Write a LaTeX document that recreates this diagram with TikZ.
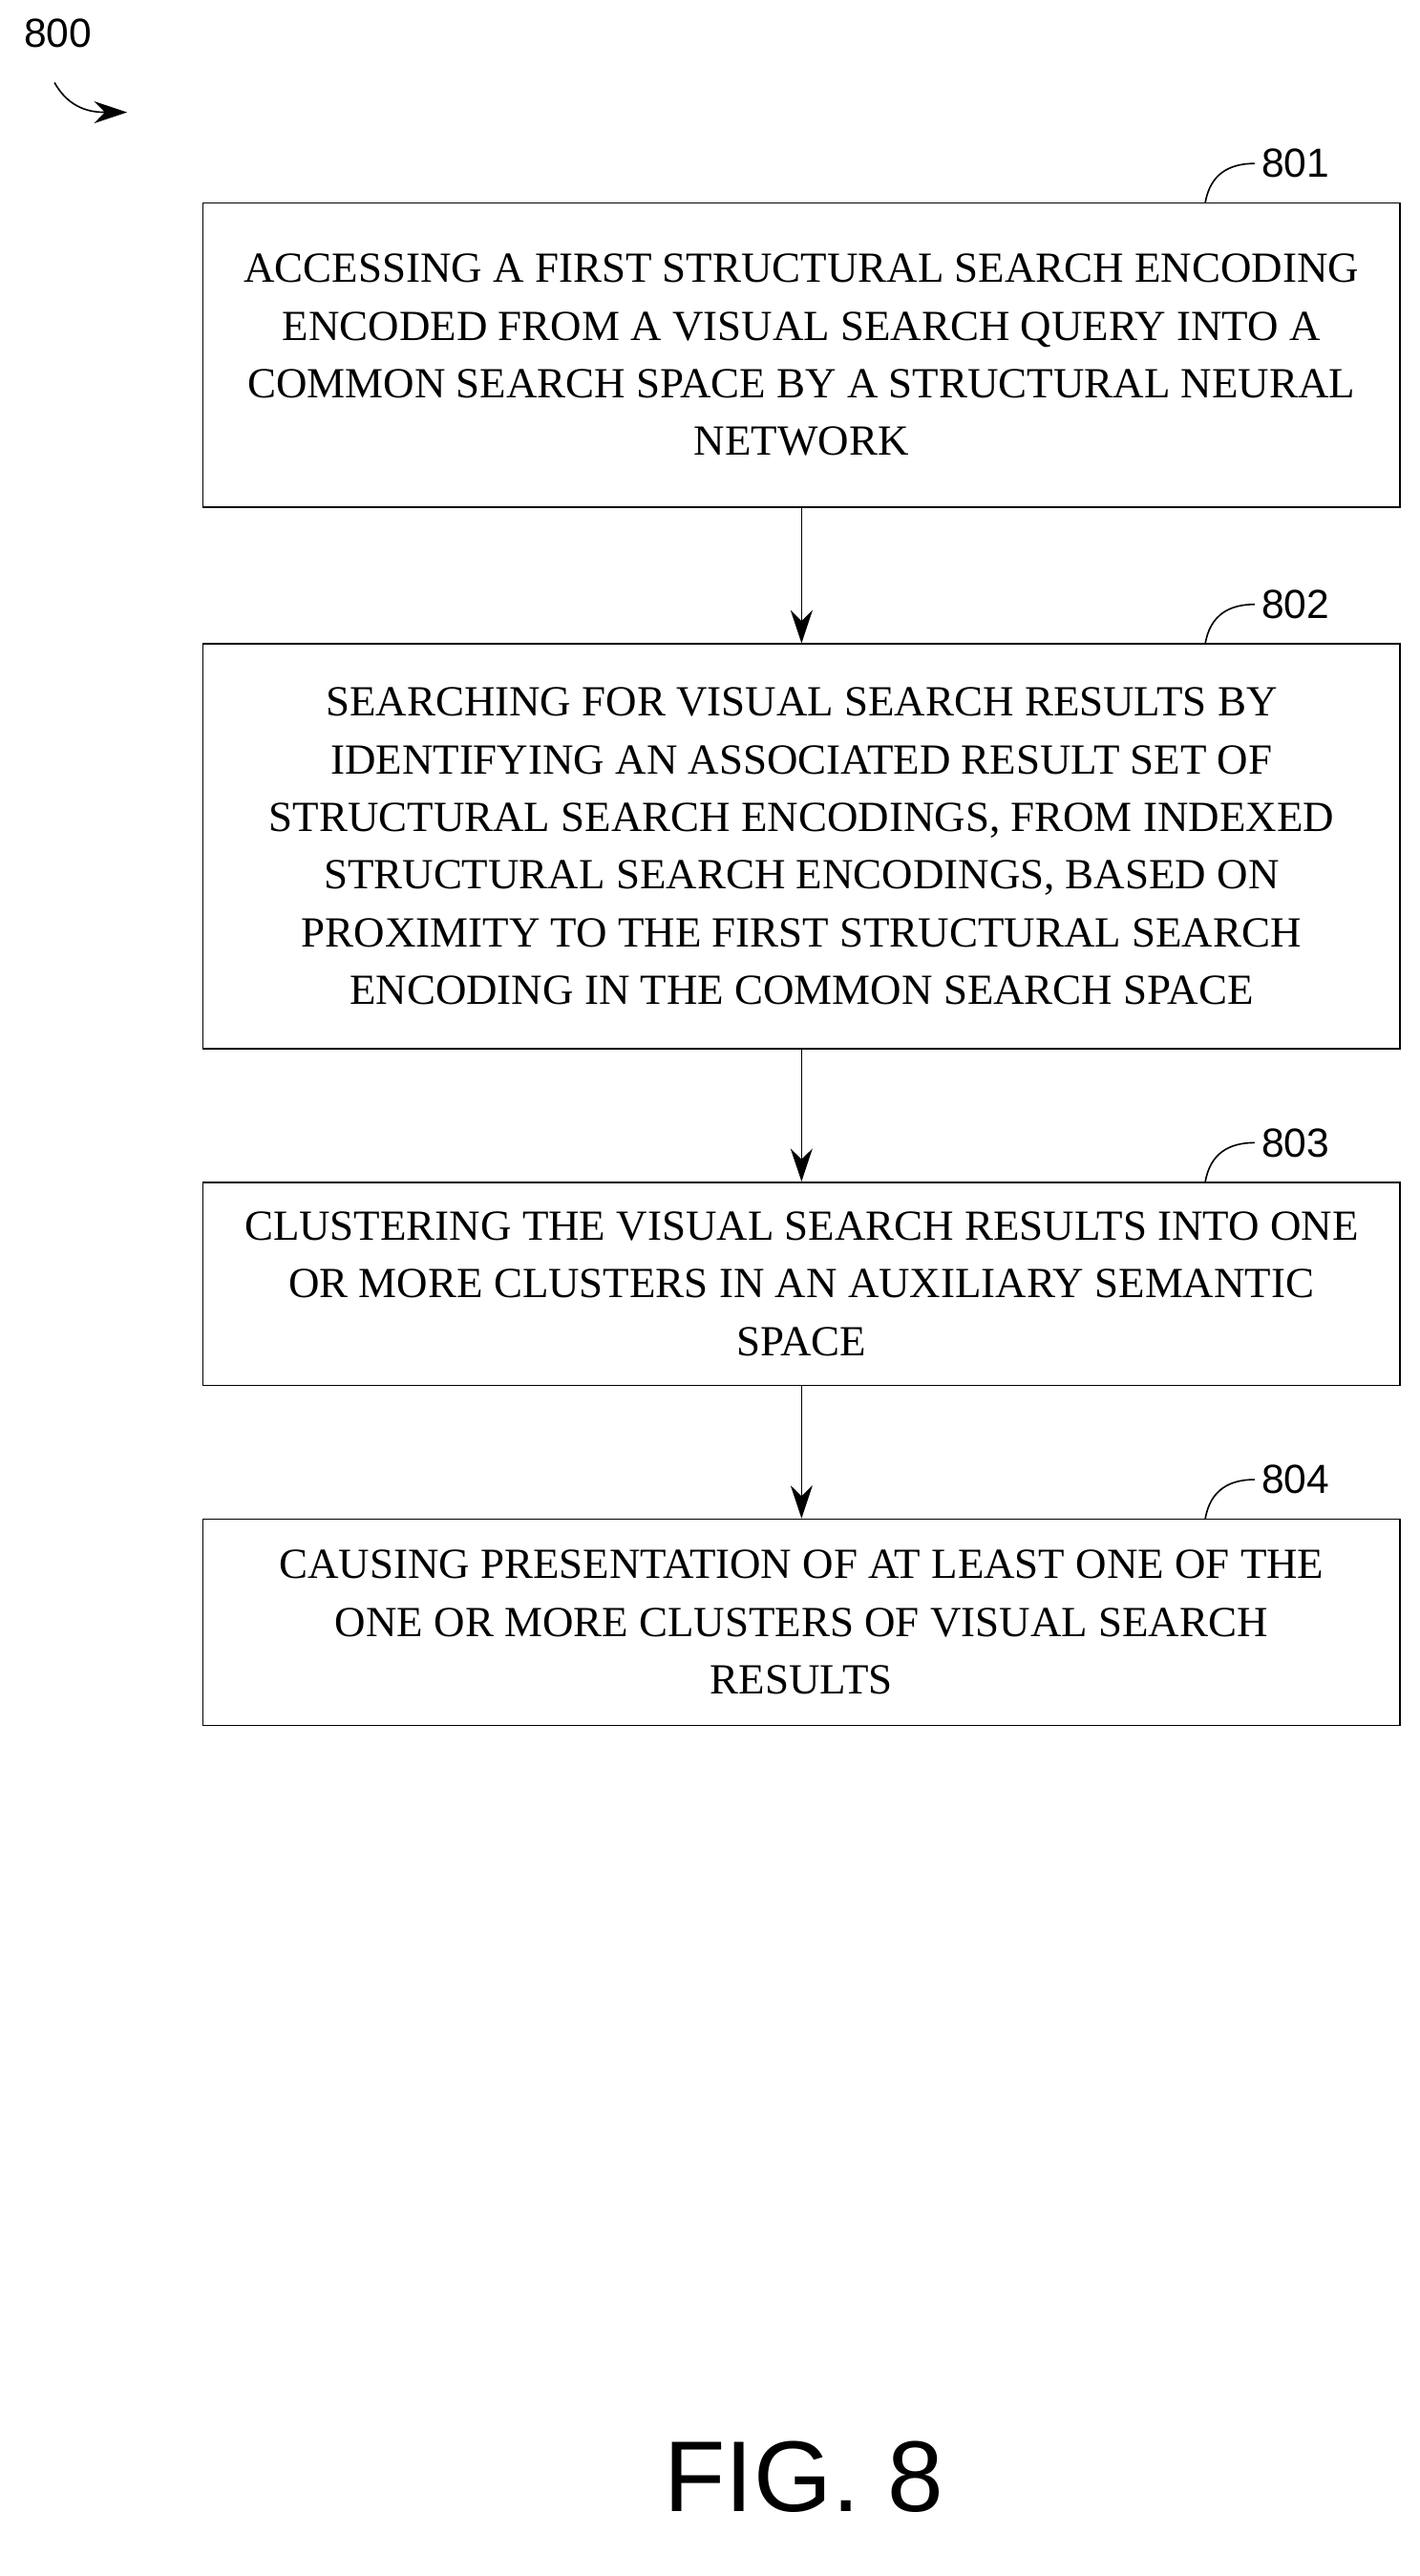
\documentclass[tikz,border=0pt]{standalone}
\usepackage{fontspec}
\setmainfont{Liberation Serif}
\setsansfont{Liberation Sans}
\usetikzlibrary{arrows.meta}
\tikzset{
  paso/.style={draw, thick, align=center, minimum width=21.75cm,
    font=\fontsize{22.2}{29.8}\selectfont, inner sep=0pt},
  flow/.style={thick, -{Stealth[length=6mm, width=4mm]}},
  refnum/.style={font=\sffamily\fontsize{21}{24}\selectfont},
  lead/.style={thick}
}
\begin{document}
\begin{tikzpicture}[x=0.03cm, y=-0.03cm]
  \useasboundingbox (0,0) rectangle (860,1560);

  % Pasos
  \node[paso, minimum height=5.52cm] (s801) at (485.5,215)
    {ACCESSING A FIRST STRUCTURAL SEARCH ENCODING\\ENCODED FROM A VISUAL SEARCH QUERY INTO A\\COMMON SEARCH SPACE BY A STRUCTURAL NEURAL\\NETWORK};
  \node[paso, minimum height=7.35cm] (s802) at (485.5,512.5)
    {SEARCHING FOR VISUAL SEARCH RESULTS BY\\IDENTIFYING AN ASSOCIATED RESULT SET OF\\STRUCTURAL SEARCH ENCODINGS, FROM INDEXED\\STRUCTURAL SEARCH ENCODINGS, BASED ON\\PROXIMITY TO THE FIRST STRUCTURAL SEARCH\\ENCODING IN THE COMMON SEARCH SPACE};
  \node[paso, minimum height=3.69cm] (s803) at (485.5,777.5)
    {CLUSTERING THE VISUAL SEARCH RESULTS INTO ONE\\OR MORE CLUSTERS IN AN AUXILIARY SEMANTIC\\SPACE};
  \node[paso, minimum height=3.75cm] (s804) at (485.5,982.5)
    {CAUSING PRESENTATION OF AT LEAST ONE OF THE\\ONE OR MORE CLUSTERS OF VISUAL SEARCH\\RESULTS};

  % Flechas
  \draw[flow] (s801) -- (s802);
  \draw[flow] (s802) -- (s803);
  \draw[flow] (s803) -- (s804);

  % Numeros de referencia
  \foreach \n/\y in {801/123, 802/390, 803/716, 804/920} {
    \node[refnum, anchor=west] (r\n) at (760,\y-24) {\n};
    \draw[lead] (730,\y) .. controls (733,\y-18) and (745,\y-24) .. (r\n.west);
  }

  % Figura
  \node[refnum] (r800) at (35,20) {800};
  \coordinate (a800) at (77,68);
  \draw[thick, -{Stealth[length=6mm, width=4mm]}] (33,50) .. controls (42,66) and (55,68) .. (a800);
  \node[font=\sffamily\fontsize{52}{56}\selectfont] (fig) at (487,1500) {FIG. 8};
\end{tikzpicture}
\end{document}
